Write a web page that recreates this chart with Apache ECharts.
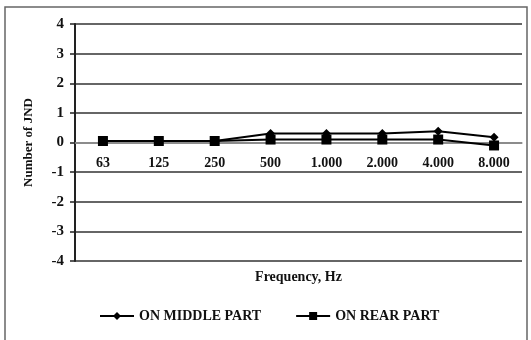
<!DOCTYPE html>
<html>
<head>
<meta charset="utf-8">
<script src="https://cdn.jsdelivr.net/npm/echarts@6/dist/echarts.min.js"></script>
<style>
  html, body { margin: 0; padding: 0; background: #fff; }
  #chart { width: 531px; height: 340px; }
</style>
</head>
<body>
<div id="chart"></div>
<script>
// data
const frequencies = ['63', '125', '250', '500', '1.000', '2.000', '4.000', '8.000']
const middlePart = [0.05, 0.05, 0.05, 0.3, 0.3, 0.3, 0.38, 0.18]
const rearPart = [0.05, 0.05, 0.05, 0.1, 0.1, 0.1, 0.1, -0.1]
const yTicks = [-4, -3, -2, -1, 0, 1, 2, 3, 4]

const font = 'Liberation Serif'

let myChart = echarts.init(document.getElementById('chart'))
let options = {
  animation: false,
  backgroundColor: '#fff',
  graphic: [{
    type: 'rect',
    shape: { x: 5, y: 7, width: 522, height: 345 },
    style: { fill: 'none', stroke: '#666', lineWidth: 1.5 },
    silent: true
  }],
  grid: { left: 75, right: 9, top: 24, bottom: 79, containLabel: false, outerBoundsMode: 'none' },
  legend: {
    bottom: 12,
    left: 94,
    itemGap: 34,
    itemWidth: 34,
    itemHeight: 10,
    textStyle: { fontFamily: font, fontWeight: 'bold', fontSize: 14, color: '#111' },
    data: ['ON MIDDLE PART', 'ON REAR PART']
  },
  xAxis: {
    type: 'category',
    data: frequencies,
    position: 'bottom',
    offset: -118,   // axis sits on the zero line, labels right under it
    name: 'Frequency, Hz',
    nameLocation: 'middle',
    nameGap: 127,
    nameTextStyle: { fontFamily: font, fontWeight: 'bold', fontSize: 14, color: '#111' },
    axisLine: { onZero: false, lineStyle: { color: '#999', width: 1.5 } },
    axisTick: { show: false },
    axisLabel: { fontFamily: font, fontWeight: 'bold', fontSize: 14, color: '#111', margin: 13 }
  },
  yAxis: {
    type: 'value',
    min: -4,
    max: 4,
    interval: 1,
    name: 'Number of JND',
    nameLocation: 'middle',
    nameGap: 40,
    nameTextStyle: { fontFamily: font, fontWeight: 'bold', fontSize: 13, color: '#111' },
    axisLine: { show: true, lineStyle: { color: '#222', width: 2 } },
    axisTick: { show: true, length: 5, lineStyle: { color: '#222', width: 1.5 } },
    axisLabel: {
      fontFamily: font, fontWeight: 'bold', fontSize: 15, color: '#111', margin: 11,
      formatter: v => yTicks.includes(v) ? String(v) : ''
    },
    splitLine: { lineStyle: { color: '#333', width: 1.5 } }
  },
  series: [
    {
      name: 'ON MIDDLE PART',
      type: 'line',
      data: middlePart,
      symbol: 'diamond',
      symbolSize: 9,
      color: '#000',
      lineStyle: { color: '#000', width: 2 },
      itemStyle: { color: '#000' }
    },
    {
      name: 'ON REAR PART',
      type: 'line',
      data: rearPart,
      symbol: 'rect',
      symbolSize: 10,
      color: '#000',
      lineStyle: { color: '#000', width: 2 },
      itemStyle: { color: '#000' }
    }
  ]
}
myChart.setOption(options)
</script>
</body>
</html>
